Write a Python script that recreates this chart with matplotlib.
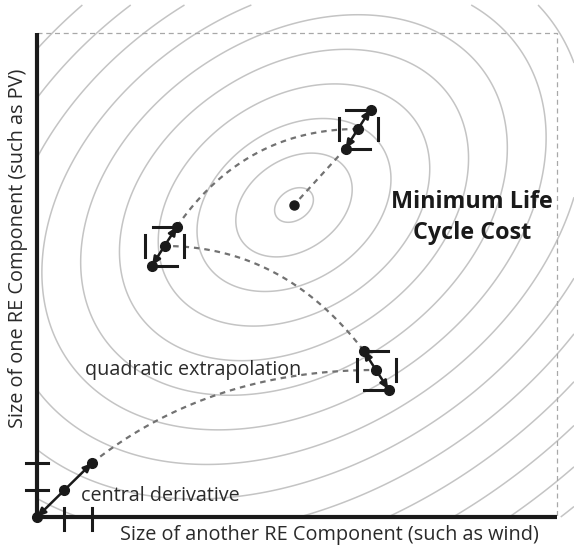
import numpy as np
import matplotlib.pyplot as plt

# schematic units: origin at the axis corner, x to the right, y up
x_end, y_end = 520, 484

# central-derivative start (origin) points
start_x = [0, 27, 55]
start_y = [0, 27, 54]

# stencil groups: centre and slope direction of the three dots
group_x = [339, 127.5, 321]
group_y = [147, 271, 388]
group_dir = [-1, 1, 1]

# minimum of the cost surface
min_x, min_y = 257, 312

# contour rings: spacing along x and y through the minimum, and tilt
step_x, step_y, tilt = 37.0, 33.0, 0.3
n_rings = 16

# quadratic-bezier control points for the dashed extrapolation paths
ctrl_x = [172, 246, 208]
ctrl_y = [147, 271, 388]

# offsets of the stencil parts
hx, hy = 12.5, 19.5

fig = plt.figure(figsize=(5.74, 5.5), dpi=100)
ax = fig.add_axes([0, 0, 1, 1])
ax.set_xlim(-37, 537)
ax.set_ylim(-33, 517)
ax.axis('off')

plt.rcParams['font.family'] = ['Open Sans', 'DejaVu Sans']

# contours of the life cycle cost
gx = np.linspace(0, 537, 600)
gy = np.linspace(0, 512, 600)
X, Y = np.meshgrid(gx, gy)
a = 1 / step_x**2
c = 1 / step_y**2
b = -tilt * np.sqrt(a * c)
dx = X - min_x
dy = Y - min_y
R = np.sqrt(a * dx**2 + 2 * b * dx * dy + c * dy**2)
levels = np.arange(1, n_rings + 1) - 0.5
ax.contour(X, Y, R, levels=levels, colors='#c4c4c4', linewidths=1.1)

# dashed bounding box
ax.plot([0, x_end, x_end], [y_end, y_end, 0], color='#a8a8a8', lw=0.9,
        ls=(0, (4, 3)))

# axes
ax.plot([0, 0], [0, y_end], color='#1a1a1a', lw=3, solid_capstyle='butt')
ax.plot([0, x_end], [0, 0], color='#1a1a1a', lw=3, solid_capstyle='butt')

# ticks of the central derivative
for t in start_x[1:]:
    ax.plot([t, t], [-13, 9], color='#1a1a1a', lw=2.2)
for t in start_y[1:]:
    ax.plot([-11, 11], [t, t], color='#1a1a1a', lw=2.2)

dash_kw = dict(color='#727272', lw=1.6, ls=(0, (2.5, 2.2)))


def bezier(p0, c, p2, n=80):
    t = np.linspace(0, 1, n)[:, None]
    return (1 - t)**2 * np.array(p0) + 2 * (1 - t) * t * np.array(c) + t**2 * np.array(p2)


arrow_kw = dict(arrowstyle='<|-|>,head_length=0.5,head_width=0.22',
                color='#1a1a1a', lw=1.8, shrinkA=0, shrinkB=0)

# dashed paths: from the last evaluated point to the next stencil centre
path_start = [(start_x[2], start_y[2])]
path_start.append((group_x[0] - hx, group_y[0] + hy))
path_start.append((group_x[1] + hx, group_y[1] + hy))
for i in range(3):
    pts = bezier(path_start[i], (ctrl_x[i], ctrl_y[i]), (group_x[i], group_y[i]))
    ax.plot(pts[:, 0], pts[:, 1], **dash_kw)

# straight path to the minimum
ax.plot([group_x[2] - hx, min_x], [group_y[2] - hy, min_y], **dash_kw)

# central derivative arrow and dots
ax.annotate('', xy=(start_x[2], start_y[2]), xytext=(start_x[0], start_y[0]),
            arrowprops=arrow_kw)
ax.plot(start_x, start_y, 'o', color='#1a1a1a', ms=7)

# stencils
for cx, cy, d in zip(group_x, group_y, group_dir):
    p_lo = (cx - hx * d, cy - hy)
    p_hi = (cx + hx * d, cy + hy)
    ax.plot([cx - 12, cx + 12], [cy + hy, cy + hy], color='#1a1a1a', lw=2.2)
    ax.plot([cx - 12, cx + 12], [cy - hy, cy - hy], color='#1a1a1a', lw=2.2)
    ax.plot([cx - 19.5, cx - 19.5], [cy - 11, cy + 11], color='#1a1a1a', lw=2.2)
    ax.plot([cx + 19.5, cx + 19.5], [cy - 11, cy + 11], color='#1a1a1a', lw=2.2)
    ax.annotate('', xy=p_hi, xytext=p_lo, arrowprops=arrow_kw)
    ax.plot([p_lo[0], cx, p_hi[0]], [p_lo[1], cy, p_hi[1]], 'o',
            color='#1a1a1a', ms=7)

ax.plot([min_x], [min_y], 'o', color='#1a1a1a', ms=6.5)

# labels
txt = '#2a2a2a'
ax.text(48, 142, 'quadratic extrapolation', fontsize=14.2, color=txt,
        va='baseline', ha='left')
ax.text(44, 16, 'central derivative', fontsize=14.2, color=txt,
        va='baseline', ha='left')
ax.text(435, 315, 'Minimum Life', fontsize=16.8, fontweight='bold',
        color='#1a1a1a', ha='center', va='center')
ax.text(435, 284, 'Cycle Cost', fontsize=16.8, fontweight='bold',
        color='#1a1a1a', ha='center', va='center')
ax.text(292, -18, 'Size of another RE Component (such as wind)', fontsize=14.3,
        color=txt, ha='center', va='center')
ax.text(-19, 269, 'Size of one RE Component (such as PV)', fontsize=14.3,
        color=txt, ha='center', va='center', rotation=90)

fig.savefig('out.png', dpi=100)
